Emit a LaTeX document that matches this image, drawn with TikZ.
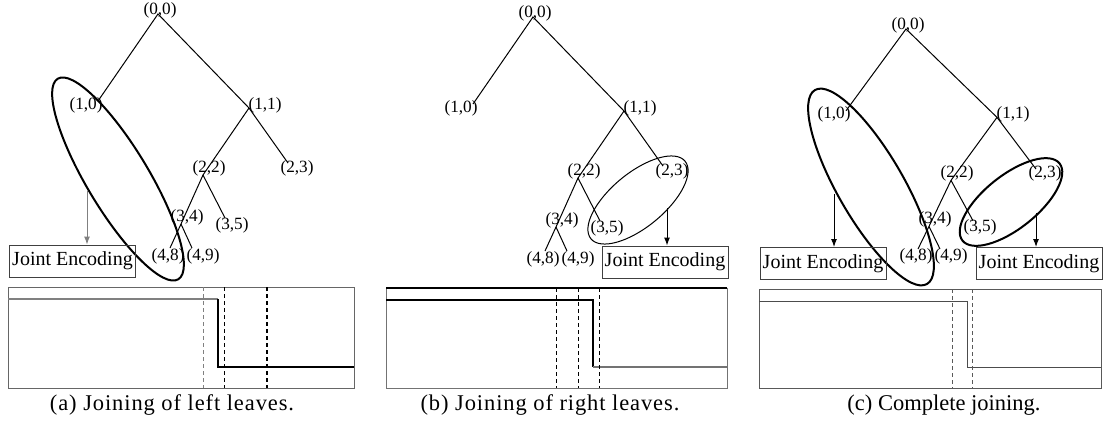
\documentclass[tikz,border=0pt]{standalone}
\usepackage{fontspec}
\setmainfont{Liberation Serif}
\newfontfamily\capwide[LetterSpace=4]{Liberation Serif}
\usetikzlibrary{shapes.geometric,arrows.meta}

% one tree, #1 = prefix of the panel
\newcommand{\maketree}[1]{%
  \coordinate (#1-00) at (0,0);
  \coordinate (#1-10) at (-60,87);
  \coordinate (#1-11) at (91,94);
  \coordinate (#1-22) at (45,161);
  \coordinate (#1-23) at (130,149);
  \coordinate (#1-34) at (23,210);
  \coordinate (#1-35) at (67,204);
  \coordinate (#1-48) at (12,234);
  \coordinate (#1-49) at (34,234);
  \draw (#1-10) -- (#1-00) -- (#1-11) -- (#1-23);
  \draw (#1-11) -- (#1-22) -- (#1-34) -- (#1-48);
  \draw (#1-22) -- (#1-35);
  \draw (#1-34) -- (#1-49);
  \node[lbl] (#1-l00) at (2,-4) {(0,0)};
  \node[lbl] (#1-l10) at (-72,91) {(1,0)};
  \node[lbl] (#1-l11) at (107,91) {(1,1)};
  \node[lbl] (#1-l22) at (51,154) {(2,2)};
  \node[lbl] (#1-l23) at (139,154) {(2,3)};
  \node[lbl] (#1-l34) at (29,203) {(3,4)};
  \node[lbl] (#1-l35) at (74,211) {(3,5)};
  \node[lbl] (#1-l48) at (10,242) {(4,8)};
  \node[lbl] (#1-l49) at (45,242) {(4,9)};
}

\begin{document}
\begin{tikzpicture}[x=0.5pt,y=-0.5pt,line width=0.5pt]
	\tikzstyle{every node}+=[inner sep=0pt]
	\tikzstyle{lbl}=[font=\fontsize{8.6}{9}\selectfont]
	\tikzstyle{grp}=[draw, ellipse, line width=1pt]
	\tikzstyle{enc}=[draw=black!75, minimum width=63pt, minimum height=16pt, font=\fontsize{10}{12}\selectfont]
	\tikzstyle{feed}=[-{Latex[length=4pt,width=3pt]}]
	\tikzstyle{cut}=[dash pattern=on 2pt off 1.5pt]
	\tikzstyle{subcap}=[font=\fontsize{11.25}{13}\selectfont]
	\useasboundingbox (0,0) rectangle (1103,428);

	% (a) joining of left leaves
	\begin{scope}[shift={(158,14)}]
		\maketree{a}
	\end{scope}
	\node[grp, minimum width=117pt, minimum height=31pt, rotate=-59] (a-grp) at (118,179) {};
	\node[enc] (a-enc) at (72.5,261) {Joint Encoding};
	\coordinate (a-from) at (87,191);
	\draw[feed, black!50] (a-from) -- (a-from |- a-enc.north);
	\draw[black!60] (8,287) rectangle (354,388);
	\draw[black!50, line width=0.7pt] (8,299) -- (218,299);
	\draw[line width=0.9pt] (218,299) -- (218,367) -- (354,367);
	\draw[cut, black!50] (203,287) -- (203,388);
	\draw[cut] (224,287) -- (224,388);
	\draw[cut, line width=0.8pt] (267,287) -- (267,388);
	\node[subcap] (a-cap) at (172,405) {\capwide (a) Joining of left leaves.};

	% (b) joining of right leaves
	\begin{scope}[shift={(533,17)}]
		\maketree{b}
	\end{scope}
	\node[grp, line width=0.5pt, minimum width=61pt, minimum height=27pt, rotate=39.5] (b-grp) at (638,200) {};
	\node[enc] (b-enc) at (665,262) {Joint Encoding};
	\coordinate (b-from) at (667,208);
	\draw[feed] (b-from) -- (b-from |- b-enc.north);
	\draw[black!55] (386,288) rectangle (727,388);
	\draw[line width=0.9pt] (386,288) -- (727,288);
	\draw[line width=0.9pt] (386,300) -- (593,300) -- (593,367);
	\draw[black!55, line width=0.7pt] (593,367) -- (727,367);
	\draw[cut] (556,288) -- (556,388);
	\draw[cut] (578,288) -- (578,388);
	\draw[cut] (599,288) -- (599,388);
	\node[subcap] (b-cap) at (550,405) {\capwide (b) Joining of right leaves.};

	% (c) complete joining
	\begin{scope}[shift={(906,29)}, yscale=0.94]
		\maketree{c}
	\end{scope}
	\node[grp, minimum width=112pt, minimum height=33pt, rotate=-60] (c-grp1) at (871,187) {};
	\node[grp, minimum width=62pt, minimum height=26.6pt, rotate=38.5] (c-grp2) at (1011,202) {};
	\node[enc] (c-enc1) at (823,263.5) {Joint Encoding};
	\node[enc] (c-enc2) at (1039,263.5) {Joint Encoding};
	\coordinate (c-from1) at (834,194);
	\coordinate (c-from2) at (1036,213);
	\draw[feed] (c-from1) -- (c-from1 |- c-enc1.north);
	\draw[feed] (c-from2) -- (c-from2 |- c-enc2.north);
	\draw[black!65] (759,289) rectangle (1101,388);
	\draw[black!70] (759,301) -- (967,301) -- (967,367) -- (1101,367);
	\draw[cut, black!65] (952,289) -- (952,388);
	\draw[cut, black!65] (972,289) -- (972,388);
	\node[subcap] (c-cap) at (944,405) {(c) Complete joining.};
\end{tikzpicture}
\end{document}
